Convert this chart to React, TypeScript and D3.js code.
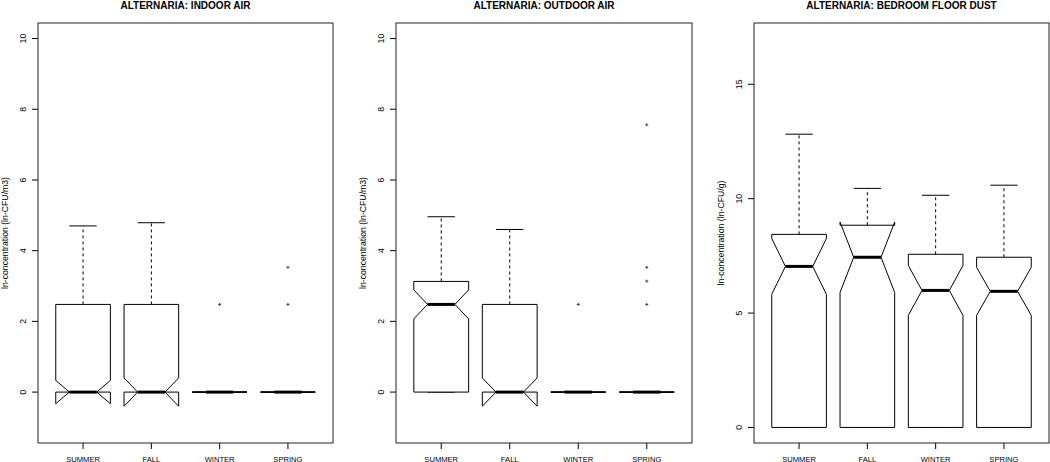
import React from 'react';
import * as d3 from 'd3';

// categories
const seasons = ['SUMMER', 'FALL', 'WINTER', 'SPRING'];

// ALTERNARIA: INDOOR AIR
const indoorLow = [0, 0, 0, 0];
const indoorQ1 = [0, 0, 0, 0];
const indoorMedian = [0, 0, 0, 0];
const indoorQ3 = [2.48, 2.48, 0, 0];
const indoorHigh = [4.7, 4.79, 0, 0];
const indoorNotch = [0.33, 0.4, 0, 0];
const indoorOutliers = [[], [], [2.48], [2.48, 3.53]];

// ALTERNARIA: OUTDOOR AIR
const outdoorLow = [0, 0, 0, 0];
const outdoorQ1 = [0, 0, 0, 0];
const outdoorMedian = [2.48, 0, 0, 0];
const outdoorQ3 = [3.13, 2.48, 0, 0];
const outdoorHigh = [4.96, 4.6, 0, 0];
const outdoorNotch = [0.41, 0.4, 0, 0];
const outdoorOutliers = [[], [], [2.48], [2.48, 3.14, 3.53, 7.56]];

// ALTERNARIA: BEDROOM FLOOR DUST
const dustLow = [0, 0, 0, 0];
const dustQ1 = [0, 0, 0, 0];
const dustMedian = [7.04, 7.44, 5.99, 5.95];
const dustQ3 = [8.44, 8.84, 7.57, 7.44];
const dustHigh = [12.82, 10.45, 10.15, 10.59];
const dustNotch = [1.22, 1.54, 1.09, 1.05];
const dustOutliers = [[], [], [], []];

const airTicks = [0, 2, 4, 6, 8, 10];
const dustTicks = [0, 5, 10, 15];

const FONT = '"Liberation Sans", Arial, Helvetica, sans-serif';
const TOP = 23;
const BOTTOM = 443;

type PanelProps = {
  title: string;
  ylab: string;
  left: number;
  right: number;
  ylim: [number, number];
  ticks: number[];
  low: number[];
  q1: number[];
  median: number[];
  q3: number[];
  high: number[];
  notch: number[];
  outliers: number[][];
};

function Panel(p: PanelProps) {
  // R style: 4% extension of the data range on both axes
  const yPad = (p.ylim[1] - p.ylim[0]) * 0.04;
  const x = d3.scaleLinear().domain([0.5 - 0.16, 4.5 + 0.16]).range([p.left, p.right]);
  const y = d3.scaleLinear().domain([p.ylim[0] - yPad, p.ylim[1] + yPad]).range([BOTTOM, TOP]);
  const line = d3.line<[number, number]>().x((d) => x(d[0])).y((d) => y(d[1]));
  const w = 0.4; // half of boxwex

  return (
    <g>
      <text x={(p.left + p.right) / 2} y={8.5} textAnchor="middle" fontFamily={FONT}
        fontWeight="bold" fontSize={10}>{p.title}</text>

      {seasons.map((s, i) => {
        const c = i + 1;
        const lo = p.median[i] - p.notch[i];
        const hi = p.median[i] + p.notch[i];
        const pts: [number, number][] = [
          [c - w, p.q1[i]], [c + w, p.q1[i]], [c + w, lo], [c + w / 2, p.median[i]],
          [c + w, hi], [c + w, p.q3[i]], [c - w, p.q3[i]], [c - w, hi],
          [c - w / 2, p.median[i]], [c - w, lo],
        ];
        return (
          <g key={s}>
            <line x1={x(c)} x2={x(c)} y1={y(p.q3[i])} y2={y(p.high[i])} stroke="#000" strokeDasharray="3,3" />
            <line x1={x(c)} x2={x(c)} y1={y(p.q1[i])} y2={y(p.low[i])} stroke="#000" strokeDasharray="3,3" />
            <line x1={x(c - w / 2)} x2={x(c + w / 2)} y1={y(p.high[i])} y2={y(p.high[i])} stroke="#000" />
            <line x1={x(c - w / 2)} x2={x(c + w / 2)} y1={y(p.low[i])} y2={y(p.low[i])} stroke="#000" />
            <path d={line(pts) + 'Z'} fill="#fff" stroke="#000" strokeWidth={1} />
            <line x1={x(c - w / 2)} x2={x(c + w / 2)} y1={y(p.median[i])} y2={y(p.median[i])} stroke="#000" strokeWidth={3} />
            {p.outliers[i].map((v, j) => (
              <path key={j} d={`M${x(c) - 1.5},${y(v)}H${x(c) + 1.5}M${x(c)},${y(v) - 1.5}V${y(v) + 1.5}`}
                stroke="#444" strokeWidth={1} />
            ))}
            <line x1={x(c)} x2={x(c)} y1={BOTTOM} y2={BOTTOM + 6} stroke="#000" />
            <text x={x(c)} y={461.5} textAnchor="middle" fontFamily={FONT} fontSize={7.6}>{s}</text>
          </g>
        );
      })}

      {p.ticks.map((t) => (
        <g key={t}>
          <line x1={p.left - 6} x2={p.left} y1={y(t)} y2={y(t)} stroke="#000" />
          <text transform={`translate(${p.left - 12},${y(t)}) rotate(-90)`} textAnchor="middle"
            fontFamily={FONT} fontSize={8.7}>{t}</text>
        </g>
      ))}

      <text transform={`translate(${p.left - 30},${(TOP + BOTTOM) / 2}) rotate(-90)`} textAnchor="middle"
        fontFamily={FONT} fontSize={8.7}>{p.ylab}</text>

      <rect x={p.left} y={TOP} width={p.right - p.left} height={BOTTOM - TOP} fill="none" stroke="#222" />
    </g>
  );
}

export default function App() {
  return (
    <svg width={1050} height={462} style={{ position: 'absolute', left: 0, top: 0, background: '#fff' }}>
      <rect width={1050} height={462} fill="#fff" />
      <Panel title="ALTERNARIA: INDOOR AIR" ylab="ln-concentration (ln-CFU/m3)" left={38} right={333}
        ylim={[-1, 10]} ticks={airTicks} low={indoorLow} q1={indoorQ1} median={indoorMedian} q3={indoorQ3}
        high={indoorHigh} notch={indoorNotch} outliers={indoorOutliers} />
      <Panel title="ALTERNARIA: OUTDOOR AIR" ylab="ln-concentration (ln-CFU/m3)" left={396} right={692}
        ylim={[-1, 10]} ticks={airTicks} low={outdoorLow} q1={outdoorQ1} median={outdoorMedian} q3={outdoorQ3}
        high={outdoorHigh} notch={outdoorNotch} outliers={outdoorOutliers} />
      <Panel title="ALTERNARIA: BEDROOM FLOOR DUST" ylab="ln-concentration (ln-CFU/g)" left={754} right={1049}
        ylim={[0, 17]} ticks={dustTicks} low={dustLow} q1={dustQ1} median={dustMedian} q3={dustQ3}
        high={dustHigh} notch={dustNotch} outliers={dustOutliers} />
    </svg>
  );
}
